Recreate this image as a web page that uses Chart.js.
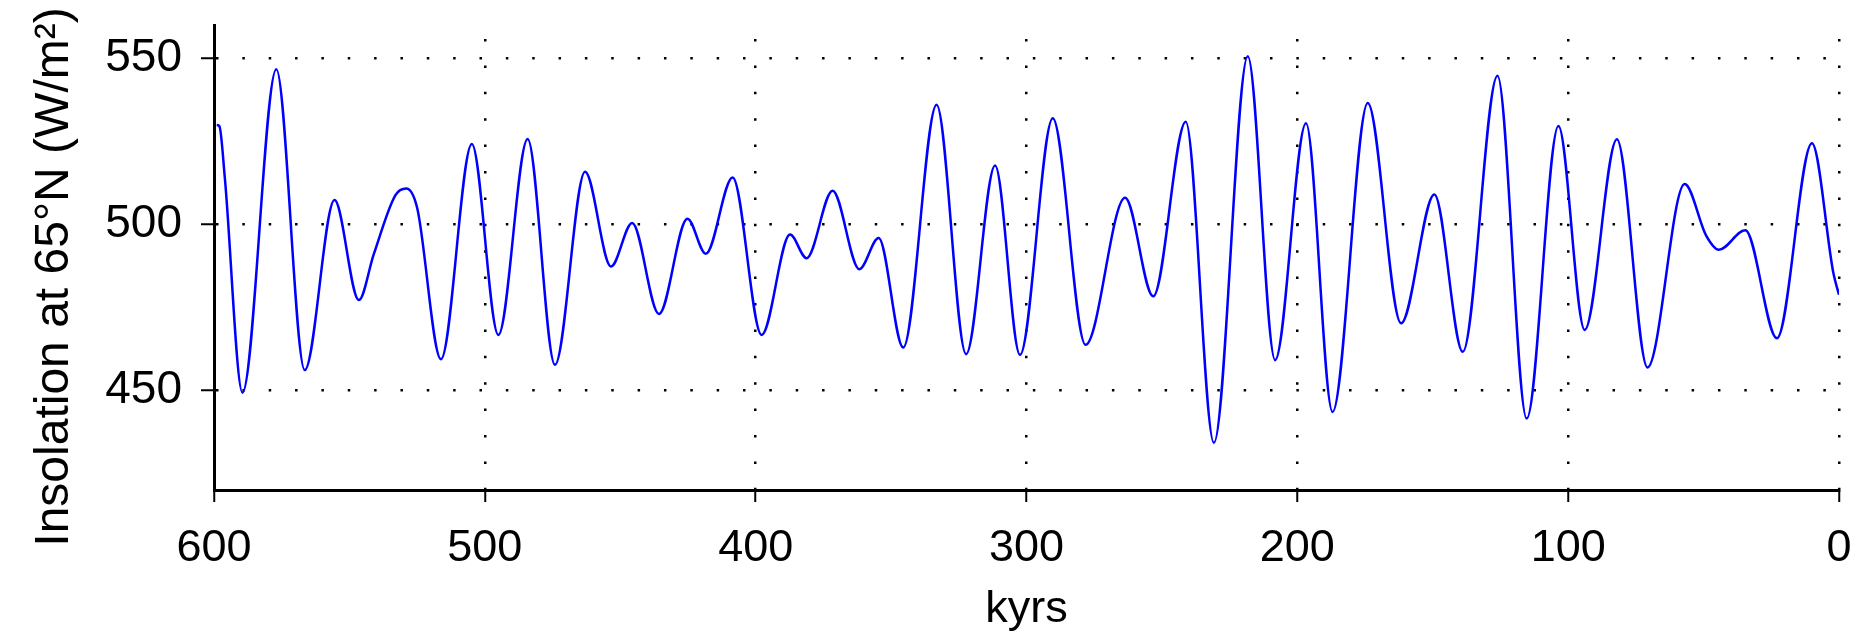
<!DOCTYPE html>
<html lang="en">
<head>
    <meta charset="utf-8">
    <title>Insolation at 65N</title>
    <style>
        html, body { margin: 0; padding: 0; background: #fff; }
        #chartContainer { width: 1864px; height: 637px; }
    </style>
</head>
<body>
<div id="chartContainer">
    <canvas id="myChart"></canvas>
</div>
<script src="https://cdn.jsdelivr.net/npm/chart.js@4.4.0/dist/chart.umd.min.js"></script>
<script type="text/javascript">
    // values (turning points plus a few shoulders)
    var kyrs = [599, 598, 596, 589.5, 577, 566.5, 555.5, 546.5, 541, 533, 529, 525, 516.2,
        504.8, 495, 484.2, 474.1, 463, 453.4, 445.6, 435.7, 425.2, 418.4, 408.5,
        397.8, 387.3, 381.2, 371.6, 361.7, 354.6, 345.5, 333.2, 322.3, 311.6,
        302.4, 290.3, 278.2, 263.6, 253.2, 241.2, 230.8, 218.3, 208.2,
        196.8, 187, 174, 161.7, 149.4, 138.9, 126.1, 115.3, 103.6,
        93.9, 82, 70.7, 57, 49, 44.4, 34.6, 22.9, 10, 2, 0];
    var insolation = [529.9, 529.5, 514, 449.3, 546.7, 456.1, 507.3, 477.2, 491, 508.8, 510.8, 505, 459.4,
        524.2, 466.7, 525.7, 457.7, 515.8, 487.3, 500.4, 473, 501.7, 491.1, 514.1,
        466.7, 496.9, 489.8, 510.1, 486.5, 495.9, 462.9, 536, 460.9, 517.7,
        460.7, 531.9, 463.7, 508, 478.3, 530.9, 434.2, 550.6, 459.1,
        530.4, 443.5, 536.5, 470.2, 509, 461.6, 544.7, 441.5, 529.6,
        468.2, 525.6, 456.9, 512.1, 496.5, 492.3, 498.2, 465.7, 524.4, 485, 478.8];
    var xTicks = [600, 500, 400, 300, 200, 100, 0];
    var yTicks = [450, 500, 550];
    var yTitle = 'Insolation at 65\u00B0N (W/m\u00B2)';

    var fontFamily = '"Liberation Sans", Arial, Helvetica, sans-serif';

    var points = [];
    for (var i = 0; i < kyrs.length; i++) {
        points.push({x: kyrs[i], y: insolation[i]});
    }

    // y title drawn by hand so it can sit where the reference puts it
    var yTitlePlugin = {
        id: 'yTitle',
        afterDraw: function (chart) {
            var c = chart.ctx;
            c.save();
            c.translate(68, 277);
            c.rotate(-Math.PI / 2);
            c.font = '48px ' + fontFamily;
            c.fillStyle = '#000';
            c.textAlign = 'center';
            c.textBaseline = 'alphabetic';
            c.fillText(yTitle, 0, 0);
            c.restore();
        }
    };

    var ctx = document.getElementById('myChart');
    var chart = new Chart(ctx, {
        type: 'line',
        data: {
            datasets: [{
                data: points,
                borderColor: '#0000ff',
                borderWidth: 2.5,
                pointRadius: 0,
                fill: false,
                cubicInterpolationMode: 'monotone'
            }]
        },
        options: {
            responsive: true,
            maintainAspectRatio: false,
            animation: false,
            layout: {padding: {left: 0, top: 25, right: 25, bottom: 0}},
            plugins: {legend: {display: false}, tooltip: {enabled: false}},
            scales: {
                x: {
                    type: 'linear',
                    min: 0,
                    max: 600,
                    reverse: true,
                    afterBuildTicks: function (axis) {
                        axis.ticks = xTicks.map(function (v) { return {value: v}; });
                    },
                    afterFit: function (axis) {
                        axis.height = 147;
                        axis.paddingLeft = 0;
                        axis.paddingRight = 0;
                    },
                    grid: {color: '#000', lineWidth: 2.5, tickLength: 12, tickWidth: 2, tickColor: '#000', tickBorderDash: []},
                    border: {display: true, color: '#000', width: 3, dash: [2.5, 23.9], dashOffset: 12.4},
                    ticks: {color: '#000', font: {family: fontFamily, size: 45}, padding: 20, maxRotation: 0, autoSkip: false},
                    title: {display: true, text: 'kyrs', color: '#000', font: {family: fontFamily, size: 45}, padding: {top: 0, bottom: 0}}
                },
                y: {
                    type: 'linear',
                    min: 420,
                    max: 560,
                    afterBuildTicks: function (axis) {
                        axis.ticks = yTicks.map(function (v) { return {value: v}; });
                    },
                    afterFit: function (axis) {
                        axis.width = 214;
                        axis.paddingTop = 0;
                        axis.paddingBottom = 0;
                    },
                    grid: {color: '#000', lineWidth: 2.5, tickLength: 13, tickWidth: 2, tickColor: '#000', tickBorderDash: []},
                    border: {display: true, color: '#000', width: 3, dash: [2.5, 23.85], dashOffset: 0},
                    ticks: {color: '#000', font: {family: fontFamily, size: 46}, padding: 19}
                }
            }
        },
        plugins: [yTitlePlugin]
    });
</script>
</body>
</html>
